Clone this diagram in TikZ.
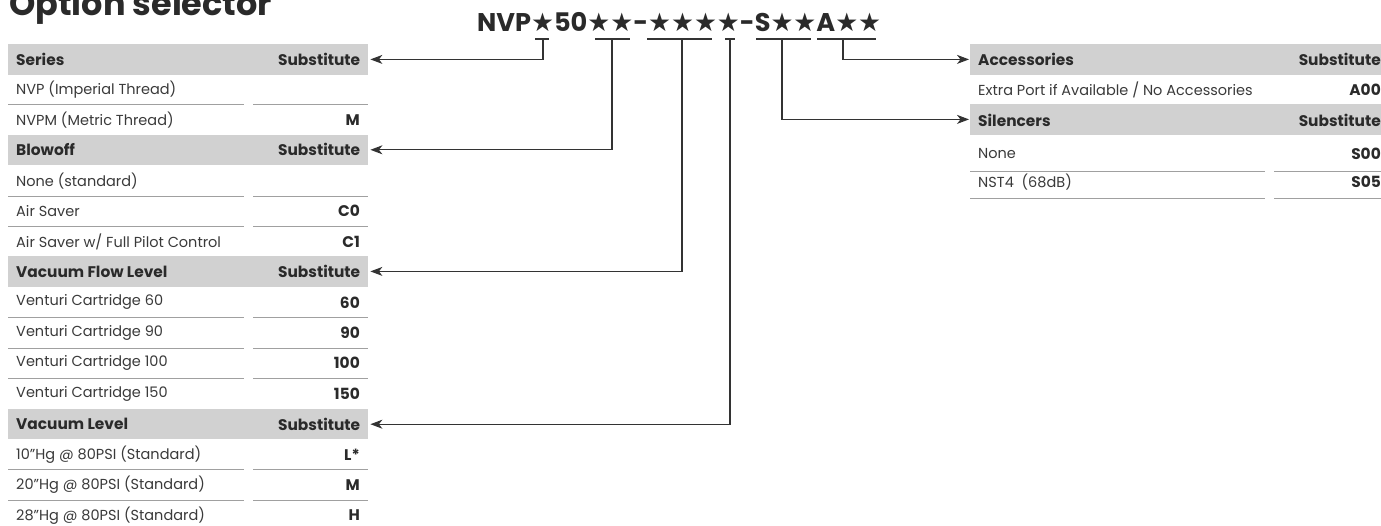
\documentclass[tikz,border=0pt]{standalone}
\usepackage{fontspec}
\setmainfont{Poppins}
\newfontfamily\symfont{DejaVu Sans}
\usetikzlibrary{arrows.meta}
\definecolor{hdrgray}{HTML}{D1D1D1}
\definecolor{txt}{HTML}{2A2A2A}
\definecolor{bodyc}{HTML}{3A3A3A}
\definecolor{sepgray}{HTML}{A0A0A0}
\definecolor{linec}{HTML}{333333}
\tikzset{
  hdrbox/.style={fill=hdrgray, draw=none, minimum width=#1, minimum height=30.4pt, inner sep=0pt, anchor=north west},
  bodytxt/.style={font=\fontsize{14.5}{16}\selectfont, text=bodyc, inner sep=0pt},
  boldtxt/.style={font=\fontsize{15.4}{17}\selectfont\bfseries, text=txt, inner sep=0pt},
  sepline/.style={draw=sepgray, line width=0.9pt},
  conn/.style={draw=linec, line width=1.1pt},
  arr/.style={conn, -{Stealth[length=12pt, width=9pt, inset=3.5pt]}},
}
\newcommand{\optstar}{{\symfont ★}}
\begin{document}
\begin{tikzpicture}[x=1pt,y=-1pt]
\useasboundingbox (0,0) rectangle (1381,525);
% title
\node[anchor=base west, inner sep=0pt, text=txt, font=\fontsize{33.5}{36}\selectfont\bfseries] (title) at (9,15) {Option selector};
% code
\node[anchor=base west, inner sep=0pt, text=txt, font=\fontsize{25.6}{28}\selectfont\bfseries] (code) at (477,31)
  {NVP\optstar 50\optstar\optstar-\optstar\optstar\optstar\optstar-S\optstar\optstar A\optstar\optstar};
% ---------- left table ----------
\node[hdrbox=360pt] (hs) at (8,44) {};
\node[hdrbox=360pt] (hb) at (8,134.4) {};
\node[hdrbox=360pt] (hf) at (8,256) {};
\node[hdrbox=360pt] (hv) at (8,408.8) {};
\foreach \n/\t in {hs/Series, hb/Blowoff, hf/Vacuum Flow Level, hv/Vacuum Level}{
  \node[boldtxt, anchor=west] (\n l) at ([xshift=8pt]\n.west) {\t};
  \node[boldtxt, anchor=east] (\n r) at ([xshift=-8pt]\n.east) {Substitute};
}
\foreach \i/\y/\lt/\rt/\s in {
  a/89.6/{NVP (Imperial Thread)}/{}/1,
  b/120/{NVPM (Metric Thread)}/{M}/0,
  c/180.8/{None (standard)}/{}/1,
  d/211.2/{Air Saver}/{C0}/1,
  e/241.6/{Air Saver w/ Full Pilot Control}/{C1}/0,
  f/302.4/{Venturi Cartridge 60}/{60}/1,
  g/332.8/{Venturi Cartridge 90}/{90}/1,
  h/363.2/{Venturi Cartridge 100}/{100}/1,
  k/393.6/{Venturi Cartridge 150}/{150}/0,
  m/454.4/{10"Hg @ 80PSI (Standard)}/{L*}/1,
  n/484.8/{20"Hg @ 80PSI (Standard)}/{M}/1,
  p/515.2/{28"Hg @ 80PSI (Standard)}/{H}/0}{
  \node[bodytxt, anchor=west] (r\i l) at (16,\y) {\lt};
  \node[boldtxt, anchor=east] (r\i r) at (360,\y) {\rt};
  \ifnum\s=1
    \draw[sepline] (8,\y+15.2) -- (244,\y+15.2);
    \draw[sepline] (253,\y+15.2) -- (368,\y+15.2);
  \fi
}
% ---------- right table ----------
\node[hdrbox=420pt] (ha) at (970,44) {};
\node[hdrbox=420pt] (hsl) at (970,104) {};
\node[boldtxt, anchor=west] (hal) at (978,59) {Accessories};
\node[boldtxt, anchor=east] (har) at (1381,59) {Substitute};
\node[boldtxt, anchor=west] (hsll) at (978,120) {Silencers};
\node[boldtxt, anchor=east] (hslr) at (1381,120) {Substitute};
\node[bodytxt, anchor=west] (rxl) at (978,89.5) {Extra Port if Available / No Accessories};
\node[boldtxt, anchor=east] (rxr) at (1381,89.5) {A00};
\node[bodytxt, anchor=west] (ryl) at (978,154) {None};
\node[boldtxt, anchor=east] (ryr) at (1381,154) {S00};
\draw[sepline] (970,171) -- (1265,171);
\draw[sepline] (1274,171) -- (1381,171);
\node[bodytxt, anchor=west] (rzl) at (978,182) {NST4\ \ (68dB)};
\node[boldtxt, anchor=east] (rzr) at (1381,182) {S05};
\draw[sepline] (970,198) -- (1265,198);
\draw[sepline] (1274,198) -- (1381,198);
% ---------- underlines and connectors ----------
\draw[conn] (535,39) -- (549,39);
\draw[conn] (595,39) -- (630,39);
\draw[conn] (647,39) -- (712,39);
\draw[conn] (725,39) -- (735,39);
\draw[conn] (756,39) -- (811,39);
\draw[conn] (817,39) -- (876,39);
\coordinate (u1) at (543,39);
\coordinate (u2) at (612,39);
\coordinate (u3) at (682,39);
\coordinate (u4) at (730,39);
\coordinate (u5) at (782,39);
\coordinate (u6) at (843,39);
\draw[arr] (u1) |- ([xshift=2pt]hs.east);
\draw[arr] (u2) |- ([xshift=2pt]hb.east);
\draw[arr] (u3) |- ([xshift=2pt]hf.east);
\draw[arr] (u4) |- ([xshift=2pt]hv.east);
\draw[arr] (u6) |- ([xshift=-1pt]ha.west);
\draw[arr] (u5) |- ([xshift=-1pt]hsl.west);
\end{tikzpicture}
\end{document}
